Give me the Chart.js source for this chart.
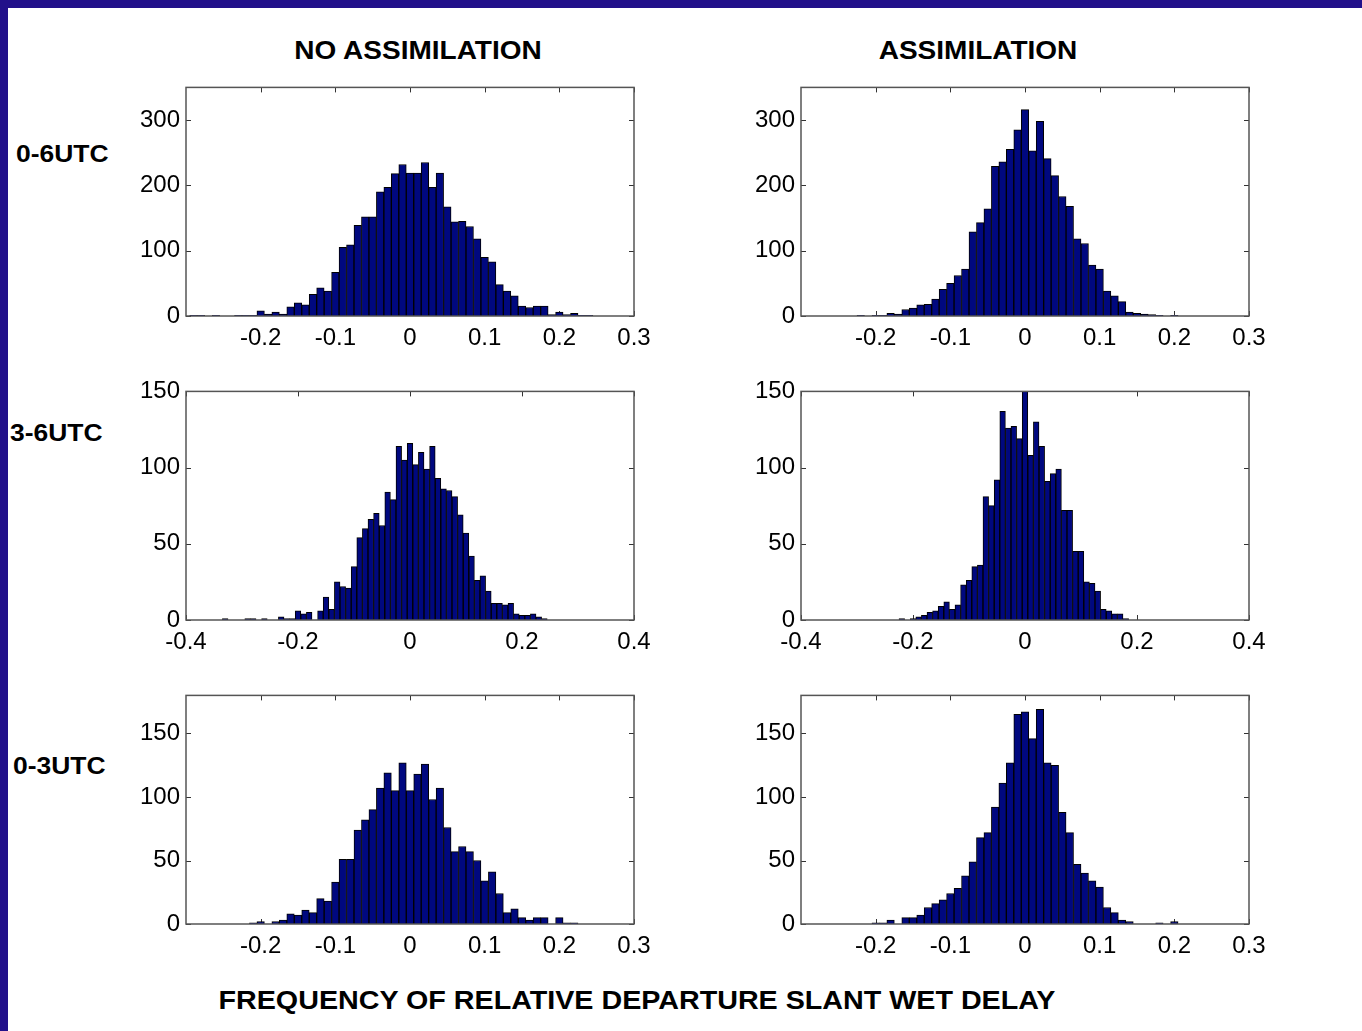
<!DOCTYPE html>
<html>
<head>
<meta charset="utf-8">
<script src="https://cdn.jsdelivr.net/npm/chart.js@4"></script>
<style>
  html, body { margin: 0; padding: 0; background: #fff; }
  body { width: 1362px; height: 1031px; position: relative; overflow: hidden; }
  .band { position: absolute; background: #22108a; }
  .panel { position: absolute; }
  .lbl {
    position: absolute; font-family: 'Liberation Sans', Arial, sans-serif;
    font-weight: bold; color: #000; white-space: nowrap; line-height: 1;
  }
  .ctr { transform: translate(-50%, -50%) scaleX(1.12); }
  .row { transform-origin: left center; transform: translateY(-50%) scaleX(1.15); font-size: 23px; }
</style>
</head>
<body>
<div class="band" style="left:0;top:0;width:1362px;height:8px"></div>
<div class="band" style="left:0;top:0;width:8px;height:1031px"></div>

<div class="lbl ctr" style="left:418px;top:50px;font-size:25px">NO ASSIMILATION</div>
<div class="lbl ctr" style="left:978px;top:50px;font-size:25px">ASSIMILATION</div>
<div class="lbl row" style="left:16px;top:154px">0-6UTC</div>
<div class="lbl row" style="left:10px;top:433px">3-6UTC</div>
<div class="lbl row" style="left:13px;top:766px">0-3UTC</div>
<div class="lbl ctr" style="left:637px;top:1000px;font-size:25px;transform:translate(-50%,-50%) scaleX(1.147)">FREQUENCY OF RELATIVE DEPARTURE SLANT WET DELAY</div>

<script>
// ── Data: histogram bins (centre of each 0.01 bin) and counts ─────────
const BIN_CENTERS = [
  -0.33, -0.32, -0.31, -0.30, -0.29, -0.28, -0.27, -0.26, -0.25, -0.24,
  -0.23, -0.22, -0.21, -0.20, -0.19, -0.18, -0.17, -0.16, -0.15, -0.14,
  -0.13, -0.12, -0.11, -0.10, -0.09, -0.08, -0.07, -0.06, -0.05, -0.04,
  -0.03, -0.02, -0.01,  0.00,  0.01,  0.02,  0.03,  0.04,  0.05,  0.06,
   0.07,  0.08,  0.09,  0.10,  0.11,  0.12,  0.13,  0.14,  0.15,  0.16,
   0.17,  0.18,  0.19,  0.20,  0.21,  0.22,  0.23,  0.24,
];

// 0-6 UTC
const NOASSIM_0_6 = [
  0, 0, 0, 0, 1, 1, 0, 1, 0, 0,
  1, 1, 1, 8, 3, 6, 3, 14, 20, 17,
  33, 43, 38, 67, 105, 109, 139, 152, 152, 190,
  197, 218, 232, 219, 219, 235, 197, 219, 167, 144,
  145, 137, 118, 90, 83, 48, 38, 31, 15, 13,
  15, 15, 2, 6, 2, 4, 1, 1,
];
const ASSIM_0_6 = [
  0, 0, 0, 0, 0, 0, 0, 0, 0, 0,
  0, 1, 0, 1, 1, 4, 3, 10, 12, 17,
  18, 26, 41, 50, 62, 72, 129, 143, 164, 229,
  236, 255, 285, 316, 253, 298, 241, 215, 183, 168,
  118, 111, 78, 72, 38, 31, 22, 6, 4, 3,
  2, 1, 0, 1, 0, 0, 0, 0,
];

// 3-6 UTC
const NOASSIM_3_6 = [
  1, 0, 0, 0, 1, 1, 0, 1, 0, 0,
  2, 1, 1, 6, 4, 5, 0, 6, 15, 7,
  25, 22, 21, 35, 54, 60, 66, 70, 62, 84,
  79, 114, 105, 116, 102, 110, 99, 114, 93, 86,
  85, 81, 69, 57, 42, 26, 29, 19, 11, 11,
  10, 11, 4, 3, 3, 4, 2, 1,
];
const ASSIM_3_6 = [
  0, 0, 0, 0, 0, 0, 0, 0, 0, 0,
  0, 1, 0, 1, 2, 3, 5, 6, 9, 12,
  7, 10, 23, 26, 35, 36, 81, 75, 92, 137,
  126, 127, 119, 150, 108, 130, 114, 91, 96, 99,
  72, 72, 45, 45, 25, 24, 19, 7, 6, 4,
  4, 1, 0, 0, 0, 0, 0, 0,
];

// 0-3 UTC
const NOASSIM_0_3 = [
  0, 0, 0, 0, 0, 0, 0, 0, 0, 0,
  0, 0, 1, 2, 0, 2, 3, 8, 7, 11,
  9, 20, 18, 33, 51, 51, 74, 82, 90, 107,
  119, 105, 127, 105, 118, 126, 98, 107, 76, 57,
  61, 57, 50, 34, 41, 24, 9, 12, 5, 3,
  5, 5, 0, 5, 1, 1, 0, 0,
];
const ASSIM_0_3 = [
  0, 0, 0, 0, 0, 0, 0, 0, 0, 0,
  0, 0, 0, 1, 1, 3, 0, 5, 5, 7,
  13, 16, 19, 24, 28, 38, 49, 68, 72, 92,
  111, 127, 165, 167, 146, 169, 127, 125, 88, 72,
  47, 40, 34, 29, 13, 9, 3, 2, 0, 0,
  0, 1, 0, 2, 0, 0, 0, 0,
];

// Tick labels
const X_TICKS_03 = [-0.2, -0.1, 0, 0.1, 0.2, 0.3];
const X_TICKS_04 = [-0.4, -0.2, 0, 0.2, 0.4];
const Y_TICKS_300 = [0, 100, 200, 300];
const Y_TICKS_150 = [0, 50, 100, 150];

// ── Panel layout (plot-area top-left corner in page px) ──────────────
const PLOT_W = 448, PLOT_H = 229;
const PAD_L = 80, PAD_T = 20, PAD_R = 30, PAD_B = 45;

const PANELS = [
  { left: 186, top: 87,  values: NOASSIM_0_6, xMin: -0.3, xMax: 0.3, xTicks: X_TICKS_03, yMax: 350, yTicks: Y_TICKS_300 },
  { left: 801, top: 87,  values: ASSIM_0_6,   xMin: -0.3, xMax: 0.3, xTicks: X_TICKS_03, yMax: 350, yTicks: Y_TICKS_300 },
  { left: 186, top: 391, values: NOASSIM_3_6, xMin: -0.4, xMax: 0.4, xTicks: X_TICKS_04, yMax: 150, yTicks: Y_TICKS_150 },
  { left: 801, top: 391, values: ASSIM_3_6,   xMin: -0.4, xMax: 0.4, xTicks: X_TICKS_04, yMax: 150, yTicks: Y_TICKS_150 },
  { left: 186, top: 695, values: NOASSIM_0_3, xMin: -0.3, xMax: 0.3, xTicks: X_TICKS_03, yMax: 180, yTicks: Y_TICKS_150 },
  { left: 801, top: 695, values: ASSIM_0_3,   xMin: -0.3, xMax: 0.3, xTicks: X_TICKS_03, yMax: 180, yTicks: Y_TICKS_150 },
];

const FONT = { family: "'Liberation Sans', Arial, sans-serif", size: 24 };
const BAR_FILL = '#00087f';

// ── Matlab-style box with inward ticks on all four sides ─────────────
const boxTicks = {
  id: 'boxTicks',
  beforeDatasetsDraw(chart) {
    const { ctx, chartArea: a, scales: { x, y } } = chart;
    ctx.save();
    ctx.strokeStyle = '#333';
    ctx.lineWidth = 1;
    ctx.beginPath();
    x.ticks.forEach(t => {
      const px = Math.round(x.getPixelForValue(t.value)) + 0.5;
      ctx.moveTo(px, a.bottom); ctx.lineTo(px, a.bottom - 5);
      ctx.moveTo(px, a.top);    ctx.lineTo(px, a.top + 5);
    });
    y.ticks.forEach(t => {
      const py = Math.round(y.getPixelForValue(t.value)) + 0.5;
      ctx.moveTo(a.left, py);  ctx.lineTo(a.left + 5, py);
      ctx.moveTo(a.right, py); ctx.lineTo(a.right - 5, py);
    });
    ctx.stroke();
    ctx.restore();
  },
  afterDraw(chart) {
    const { ctx, chartArea: a } = chart;
    ctx.save();
    ctx.strokeStyle = '#555';
    ctx.lineWidth = 1.5;
    ctx.strokeRect(a.left, a.top, a.right - a.left, a.bottom - a.top);
    ctx.restore();
  },
};

function makePanel(p) {
  const wrap = document.createElement('div');
  wrap.className = 'panel';
  const w = PLOT_W + PAD_L + PAD_R, h = PLOT_H + PAD_T + PAD_B;
  Object.assign(wrap.style, {
    left: (p.left - PAD_L) + 'px', top: (p.top - PAD_T) + 'px',
    width: w + 'px', height: h + 'px',
  });
  const canvas = document.createElement('canvas');
  wrap.appendChild(canvas);
  document.body.appendChild(wrap);

  new Chart(canvas.getContext('2d'), {
    type: 'bar',
    data: {
      datasets: [{
        data: BIN_CENTERS.map((c, i) => ({ x: c, y: p.values[i] })),
        backgroundColor: BAR_FILL,
        borderColor: '#000',
        borderWidth: 1,
        barPercentage: 1,
        categoryPercentage: 1,
      }],
    },
    options: {
      responsive: true,
      maintainAspectRatio: false,
      animation: false,
      events: [],
      layout: { padding: { top: PAD_T, right: PAD_R, left: 0, bottom: 0 } },
      plugins: { legend: { display: false }, tooltip: { enabled: false } },
      scales: {
        x: {
          type: 'linear', offset: false, min: p.xMin, max: p.xMax,
          grid: { display: false, drawTicks: false }, border: { display: false },
          afterBuildTicks: s => { s.ticks = p.xTicks.map(v => ({ value: v })); },
          afterFit: s => { s.height = PAD_B; },
          ticks: { color: '#000', font: FONT, padding: 8, maxRotation: 0, autoSkip: false, callback: v => String(v) },
        },
        y: {
          min: 0, max: p.yMax,
          grid: { display: false, drawTicks: false }, border: { display: false },
          afterBuildTicks: s => { s.ticks = p.yTicks.map(v => ({ value: v })); },
          afterFit: s => { s.width = PAD_L; },
          ticks: { color: '#000', font: FONT, padding: 6, callback: v => String(v) },
        },
      },
    },
    plugins: [boxTicks],
  });
}

PANELS.forEach(makePanel);
</script>
</body>
</html>
